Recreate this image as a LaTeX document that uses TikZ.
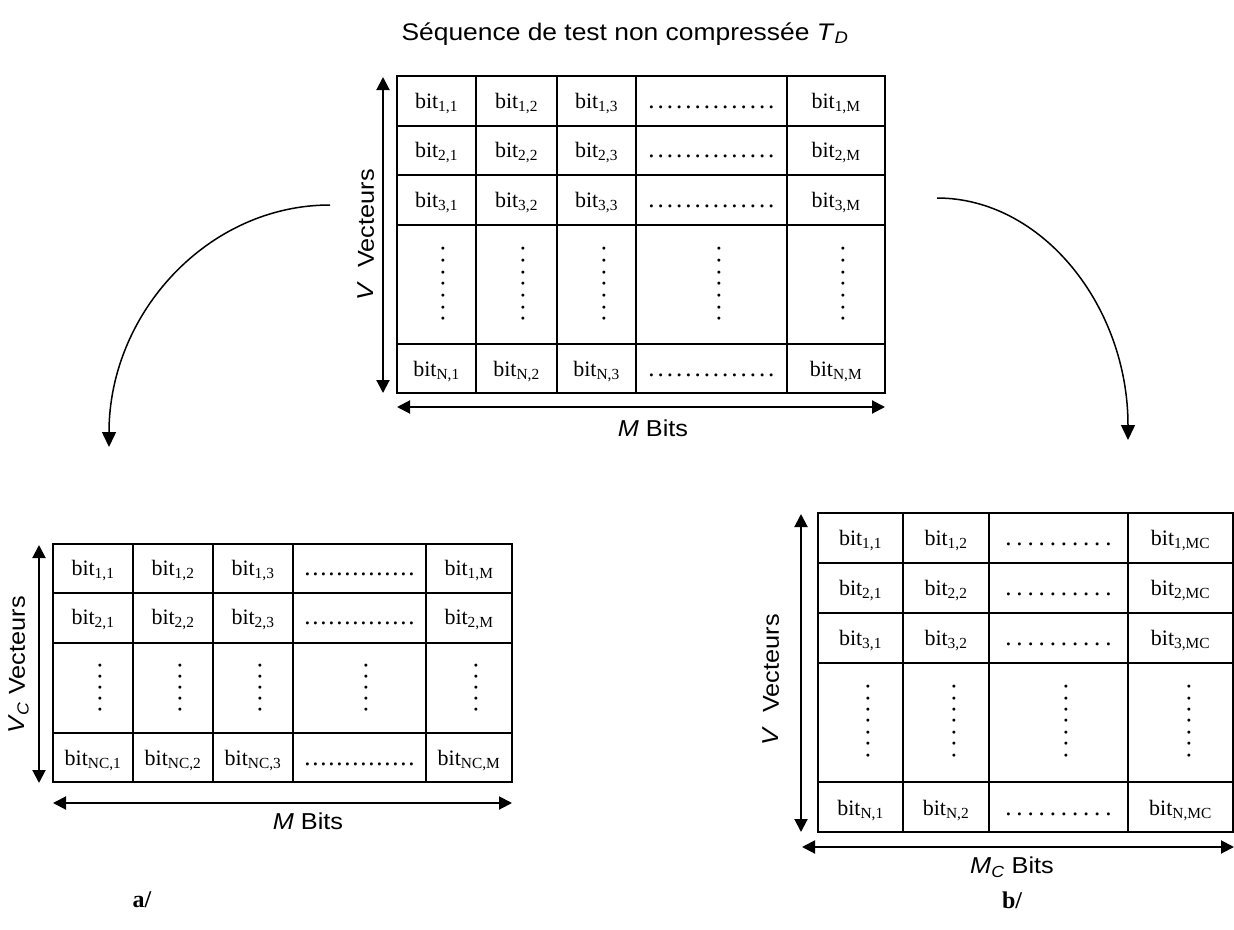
\documentclass[tikz,border=0pt]{standalone}
\usepackage{fontspec}
\setmainfont{Liberation Serif}
\setsansfont{Liberation Sans}[FakeStretch=1.1]
\usetikzlibrary{arrows.meta}

\def\punkte#1#2{\hbox to #1{\xleaders\hbox to #2{\hss.\hss}\hfill}}
\def\bit#1{bit\textsubscript{#1}}

\tikzset{
	gitter/.style={line width=2.2pt},
	doppel/.style={line width=2pt,{Triangle[length=13pt,width=13pt]}-{Triangle[length=13pt,width=13pt]}},
	bogen/.style={line width=1.5pt,-{Triangle[length=15pt,width=14pt]}},
	zelle/.style={font=\fontsize{22}{26}\selectfont,anchor=base,inner sep=0pt},
	leiste/.style={font=\fontsize{25}{28}\selectfont,anchor=base,inner sep=0pt},
	senkrecht/.style={font=\fontsize{25}{28}\selectfont,rotate=-90,inner sep=0pt},
	etikett/.style={font=\sffamily\fontsize{23}{27}\selectfont,inner sep=0pt},
	marke/.style={font=\bfseries\fontsize{24}{28}\selectfont,inner sep=0pt},
}

\begin{document}
\begin{tikzpicture}[x=1pt,y=-1pt]
\useasboundingbox (0,0) rectangle (1234,929);

\node[etikett,anchor=base,font=\sffamily\fontsize{24}{28}\selectfont] (titel) at (625,40)
	{Séquence de test non compressée \textit{T}\textsubscript{\textit{D}}};

% T_D
\begin{scope}
	\draw[gitter] (397,76) rectangle (885,393);
	\foreach \x in {476,557,636,787}
		\draw[gitter] (\x,76) -- (\x,393);
	\foreach \y in {126,175,225,344}
		\draw[gitter] (397,\y) -- (885,\y);
	\foreach \n/\y in {1/108,2/157,3/207,N/376}{
		\node[zelle] (t-\n-1) at (436.5,\y) {\bit{\n,1}};
		\node[zelle] (t-\n-2) at (516.5,\y) {\bit{\n,2}};
		\node[zelle] (t-\n-3) at (596.5,\y) {\bit{\n,3}};
		\node[leiste] (t-\n-p) at (711.5,\y) {\punkte{129pt}{9.2pt}};
		\node[zelle] (t-\n-m) at (836,\y) {\bit{\n,M}};
	}
	\foreach \x in {443,523,604,719,843}
		\node[senkrecht] at (\x,284) {\punkte{83pt}{10.4pt}};
	\coordinate (t-o) at (383,77);
	\coordinate (t-u) at (383,393);
	\coordinate (t-l) at (397,407);
	\coordinate (t-r) at (885,407);
	\draw[doppel] (t-o) -- (t-u);
	\draw[doppel] (t-l) -- (t-r);
	\node[etikett,rotate=90] (t-v) at (366,235) {\textit{V}~ Vecteurs};
	\node[etikett] (t-b) at (653,428) {\textit{M} Bits};
\end{scope}

% a/
\begin{scope}
	\draw[gitter] (53,544) rectangle (512,782);
	\foreach \x in {133,213,293,426}
		\draw[gitter] (\x,544) -- (\x,782);
	\foreach \y in {593,643,733}
		\draw[gitter] (53,\y) -- (512,\y);
	\foreach \n/\y in {1/575,2/624,NC/765}{
		\node[zelle] (a-\n-1) at (93,\y) {\bit{\n,1}};
		\node[zelle] (a-\n-2) at (173,\y) {\bit{\n,2}};
		\node[zelle] (a-\n-3) at (253,\y) {\bit{\n,3}};
		\node[leiste] (a-\n-p) at (359.5,\y) {\punkte{112pt}{8pt}};
		\node[zelle] (a-\n-m) at (469,\y) {\bit{\n,M}};
	}
	\foreach \x in {100,180,260,366,476}
		\node[senkrecht] at (\x,688) {\punkte{55pt}{11pt}};
	\coordinate (a-o) at (39,545);
	\coordinate (a-u) at (39,783);
	\coordinate (a-l) at (53,803);
	\coordinate (a-r) at (512,803);
	\draw[doppel] (a-o) -- (a-u);
	\draw[doppel] (a-l) -- (a-r);
	\node[etikett,rotate=90] (a-v) at (19,665) {\textit{V}\textsubscript{\textit{C}} Vecteurs};
	\node[etikett] (a-b) at (308,821) {\textit{M} Bits};
	\node[marke] (a) at (142,900) {a/};
\end{scope}

% b/
\begin{scope}
	\draw[gitter] (818,513) rectangle (1233,832);
	\foreach \x in {903,989,1128}
		\draw[gitter] (\x,513) -- (\x,832);
	\foreach \y in {563,613,663,782}
		\draw[gitter] (818,\y) -- (1233,\y);
	\foreach \n/\y in {1/545,2/595,3/645,N/815}{
		\node[zelle] (b-\n-1) at (860.5,\y) {\bit{\n,1}};
		\node[zelle] (b-\n-2) at (946,\y) {\bit{\n,2}};
		\node[leiste] (b-\n-p) at (1058.5,\y) {\punkte{112pt}{10.2pt}};
		\node[zelle] (b-\n-m) at (1180.5,\y) {\bit{\n,MC}};
	}
	\foreach \x in {868,954,1066,1189}
		\node[senkrecht] at (\x,721) {\punkte{81pt}{10.2pt}};
	\coordinate (b-o) at (801,514);
	\coordinate (b-u) at (801,832);
	\coordinate (b-l) at (802,847);
	\coordinate (b-r) at (1234,847);
	\draw[doppel] (b-o) -- (b-u);
	\draw[doppel] (b-l) -- (b-r);
	\node[etikett,rotate=90] (b-v) at (771,680) {\textit{V}~ Vecteurs};
	\node[etikett] (b-b) at (1012,867) {\textit{M}\textsubscript{\textit{C}} Bits};
	\node[marke] (b) at (1012,900) {b/};
\end{scope}

% Boegen
\coordinate (l-s) at (330,205);
\coordinate (l-e) at (109,447);
\coordinate (r-s) at (937,198);
\coordinate (r-e) at (1128,440);
\draw[bogen] (l-s) .. controls (208,205) and (109,313) .. (l-e);
\draw[bogen] (r-s) .. controls (1042,198) and (1128,306) .. (r-e);
\end{tikzpicture}
\end{document}
